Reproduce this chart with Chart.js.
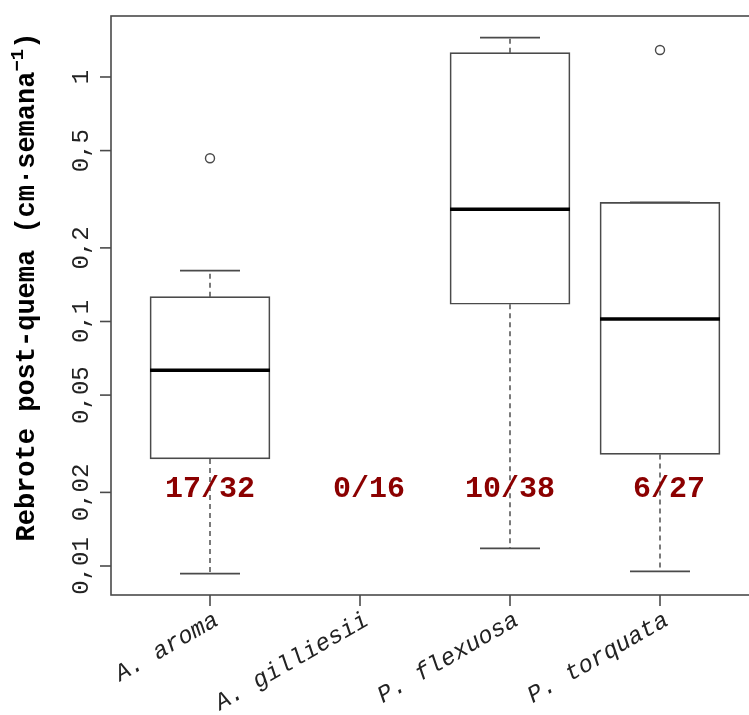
<!DOCTYPE html>
<html>
<head>
<meta charset="utf-8">
<script src="https://cdn.jsdelivr.net/npm/chart.js@4/dist/chart.umd.min.js"></script>
<style>
  html, body { margin: 0; padding: 0; background: #fff; overflow: hidden; }
  #wrap { width: 800px; height: 715px; }
</style>
</head>
<body>
<div id="wrap"><canvas id="chart"></canvas></div>
<script>
// Rebrote post-quema por especie (boxplot, escala log)
const species      = ["A. aroma", "A. gilliesii", "P. flexuosa", "P. torquata"];
const lowerWhisker = [0.0093, null, 0.0118, 0.0095];
const q1           = [0.0274, null, 0.1176, 0.0286];
const median       = [0.0632, null, 0.288,  0.1024];
const q3           = [0.1263, null, 1.257,  0.307];
const upperWhisker = [0.1614, null, 1.448,  0.307];
const outliers     = [[0.465], [], [], [1.289]];
const ratios       = ["17/32", "0/16", "10/38", "6/27"];
const ratioY       = 0.0205;
const yTicks       = [0.01, 0.02, 0.05, 0.1, 0.2, 0.5, 1];
const yTickLabels  = ["0,01", "0,02", "0,05", "0,1", "0,2", "0,5", "1"];

const LINE = "#4a4a4a";
const xs = species.map((_, i) => i + 1);
const has = i => q1[i] !== null;

// data built from arrays
const boxData = xs.filter((_, i) => has(i)).map(x => ({ x, y: [q1[x - 1], q3[x - 1]] }));
const whiskerData = [];
const capData = [];
const medianData = [];
xs.forEach((x, i) => {
    if (!has(i)) return;
    whiskerData.push({ x, y: q3[i] }, { x, y: upperWhisker[i] }, { x, y: null },
                     { x, y: q1[i] }, { x, y: lowerWhisker[i] }, { x, y: null });
    capData.push({ x: x - 0.2, y: upperWhisker[i] }, { x: x + 0.2, y: upperWhisker[i] }, { x, y: null },
                 { x: x - 0.2, y: lowerWhisker[i] }, { x: x + 0.2, y: lowerWhisker[i] }, { x, y: null });
    medianData.push({ x: x - 0.4, y: median[i] }, { x: x + 0.4, y: median[i] }, { x, y: null });
});
const outlierData = [];
outliers.forEach((arr, i) => arr.forEach(v => outlierData.push({ x: i + 1, y: v })));

const segLine = {
    type: "line", showLine: true, pointRadius: 0, fill: false,
    tension: 0, spanGaps: false, borderCapStyle: "butt"
};

// axes, frame and text drawn against the chart scales
const decor = {
    id: "decor",
    afterDraw(chart) {
        const { ctx, chartArea: a, scales: { x, y } } = chart;
        ctx.save();
        ctx.strokeStyle = LINE;
        ctx.lineWidth = 1.6;
        ctx.strokeRect(a.left, a.top, a.right - a.left, a.bottom - a.top);

        // y ticks
        ctx.fillStyle = "#222";
        ctx.font = "24px 'Liberation Mono', monospace";
        yTicks.forEach((v, i) => {
            const py = y.getPixelForValue(v);
            ctx.beginPath();
            ctx.moveTo(a.left - 11, py);
            ctx.lineTo(a.left, py);
            ctx.stroke();
            ctx.save();
            ctx.translate(88, py);
            ctx.rotate(-Math.PI / 2);
            ctx.textAlign = "center";
            ctx.textBaseline = "alphabetic";
            ctx.fillText(yTickLabels[i], 0, 0);
            ctx.restore();
        });

        // x ticks + rotated labels
        ctx.font = "italic 24px 'Liberation Mono', monospace";
        xs.forEach((v, i) => {
            const px = x.getPixelForValue(v);
            ctx.beginPath();
            ctx.moveTo(px, a.bottom);
            ctx.lineTo(px, a.bottom + 11);
            ctx.stroke();
            ctx.save();
            ctx.translate(px + 10, 624);
            ctx.rotate(-30 * Math.PI / 180);
            ctx.textAlign = "right";
            ctx.textBaseline = "alphabetic";
            ctx.fillText(species[i], 0, 0);
            ctx.restore();
        });

        // ratio annotations
        ctx.fillStyle = "#8b0000";
        ctx.font = "bold 30px 'Liberation Mono', monospace";
        ctx.textAlign = "right";
        ctx.textBaseline = "middle";
        ratios.forEach((t, i) => {
            ctx.fillText(t, x.getPixelForValue(xs[i] + 0.3), y.getPixelForValue(ratioY));
        });

        // y title with superscript
        const main = "Rebrote post-quema (cm·semana";
        const sup = "−1";
        const bigF = "bold 27px 'Liberation Mono', monospace";
        const smallF = "bold 19px 'Liberation Mono', monospace";
        ctx.font = bigF;
        const w1 = ctx.measureText(main).width;
        const w3 = ctx.measureText(")").width;
        ctx.font = smallF;
        const w2 = ctx.measureText(sup).width;
        const total = w1 + w2 + w3;
        ctx.save();
        ctx.translate(34, 287);
        ctx.rotate(-Math.PI / 2);
        ctx.fillStyle = "#000";
        ctx.textAlign = "left";
        ctx.textBaseline = "alphabetic";
        let cx = -total / 2;
        ctx.font = bigF;
        ctx.fillText(main, cx, 0);
        cx += w1;
        ctx.font = smallF;
        ctx.fillText(sup, cx, -11);
        cx += w2;
        ctx.font = bigF;
        ctx.fillText(")", cx, 0);
        ctx.restore();

        ctx.restore();
    }
};

new Chart(document.getElementById("chart"), {
    data: {
        datasets: [
            {
                type: "bar", data: boxData, order: 3,
                backgroundColor: "#fff", borderColor: LINE, borderWidth: 1.7,
                borderSkipped: false, barThickness: 120
            },
            { ...segLine, data: whiskerData, order: 2, borderColor: "#333", borderWidth: 1.3, borderDash: [5, 4] },
            { ...segLine, data: capData, order: 1, borderColor: LINE, borderWidth: 1.7 },
            { ...segLine, data: medianData, order: 1, borderColor: "#000", borderWidth: 3.5 },
            {
                type: "line", data: outlierData, order: 0, showLine: false,
                pointStyle: "circle", pointRadius: 4.5, pointBorderWidth: 1.4,
                pointBackgroundColor: "#fff", pointBorderColor: LINE
            }
        ]
    },
    options: {
        responsive: true, maintainAspectRatio: false, animation: false,
        layout: { padding: { left: 111, top: 16, right: 41, bottom: 120 } },
        plugins: { legend: { display: false }, tooltip: { enabled: false } },
        scales: {
            x: { type: "linear", min: 0.34, max: 4.66, offset: false, display: false },
            y: { type: "logarithmic", min: 0.00761, max: 1.776, display: false }
        }
    },
    plugins: [decor]
});
</script>
</body>
</html>
